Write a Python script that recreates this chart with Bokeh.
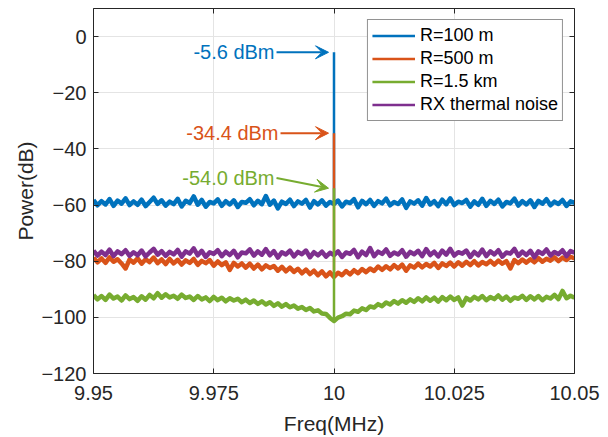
import numpy as np
from bokeh.plotting import figure
from bokeh.models import (ColumnDataSource, LinearAxis, FixedTicker, PrintfTickFormatter,
                          Legend, LegendItem, Arrow, VeeHead)
from bokeh.core.properties import value
from bokeh.embed import file_html
from bokeh.resources import INLINE

# Spectrum bins (MHz)
freq = np.linspace(9.95, 10.05, 121)
carrier_mhz = 10.0
carrier_bin = 60

# Noise floors around the carrier (dB)
p_100m = [
    -58.2, -60.1, -58.6, -59.8, -57.9, -60.3, -58.4, -59.5, -57.6, -60.0,
    -58.7, -59.9, -58.1, -60.4, -58.9, -57.4, -59.6, -58.3, -60.2, -58.8,
    -59.7, -57.8, -60.5, -58.5, -59.3, -56.9, -59.9, -58.2, -60.6, -58.9,
    -59.4, -58.0, -60.3, -58.6, -59.8, -58.3, -60.7, -58.9, -59.2, -57.9,
    -60.1, -58.5, -59.7, -56.8, -59.9, -58.4, -61.2, -58.8, -59.6, -58.1,
    -60.4, -58.7, -59.5, -58.2, -60.9, -58.6, -59.8, -58.3, -60.2, -58.9,
    -59.6, -58.4, -60.5, -58.8, -59.3, -57.9, -60.8, -58.5, -59.7, -58.2,
    -60.3, -58.6, -59.4, -57.7, -60.1, -58.9, -59.6, -58.0, -61.0, -58.7,
    -59.5, -58.3, -60.2, -57.5, -59.8, -58.6, -60.4, -58.1, -59.7, -57.6,
    -60.0, -58.8, -59.3, -58.2, -60.6, -58.7, -59.9, -57.8, -60.3, -58.5,
    -59.6, -58.1, -60.5, -58.9, -59.4, -57.7, -60.2, -58.6, -59.8, -58.3,
    -60.7, -58.5, -59.5, -57.9, -60.1, -58.8, -59.6, -58.2, -60.3, -58.7,
    -59.2,
]
p_500m = [
    -78.8, -80.4, -79.0, -80.6, -78.6, -80.2, -79.3, -80.8, -82.6, -79.4,
    -80.5, -79.0, -80.9, -79.3, -80.3, -78.7, -80.7, -79.4, -81.0, -79.2,
    -80.8, -79.5, -81.2, -79.7, -80.6, -79.2, -81.3, -79.9, -80.7, -79.6,
    -81.6, -80.1, -81.4, -80.4, -83.1, -80.6, -81.9, -80.8, -82.3, -80.9,
    -82.6, -81.2, -82.9, -81.5, -82.4, -81.7, -83.4, -82.0, -83.6, -82.3,
    -83.8, -82.7, -84.3, -83.0, -84.6, -83.4, -85.0, -83.6, -85.4, -84.0,
    -85.6, -84.1, -85.0, -83.5, -84.7, -83.2, -84.3, -82.8, -83.9, -82.6,
    -83.5, -81.9, -83.1, -81.8, -82.9, -81.4, -82.6, -81.2, -83.4, -81.5,
    -82.3, -80.9, -82.2, -81.0, -81.9, -80.6, -82.4, -80.8, -81.7, -80.5,
    -81.9, -80.4, -81.6, -80.2, -81.4, -80.0, -81.5, -80.3, -81.1, -79.9,
    -81.2, -79.8, -80.9, -80.0, -82.6, -79.6, -80.7, -79.4, -80.5, -79.3,
    -80.4, -78.9, -80.2, -79.1, -79.8, -78.6, -80.0, -78.7, -79.6, -78.4,
    -79.0,
]
p_1500m = [
    -92.1, -93.6, -92.4, -93.8, -91.9, -93.3, -92.6, -94.0, -92.2, -93.5,
    -92.8, -94.1, -92.5, -93.7, -92.0, -93.2, -91.4, -93.0, -91.8, -92.9,
    -92.3, -93.4, -91.9, -93.1, -92.6, -93.8, -92.4, -93.6, -92.9, -94.2,
    -92.7, -93.9, -93.0, -94.3, -93.2, -94.0, -93.4, -94.6, -93.7, -94.9,
    -94.0, -95.2, -94.3, -95.4, -94.6, -95.9, -95.0, -96.2, -95.3, -96.4,
    -95.8, -96.9, -96.3, -97.4, -96.7, -97.9, -97.5, -98.6, -98.8, -100.2,
    -101.3, -100.1, -99.6, -98.7, -98.9, -97.6, -98.0, -96.8, -97.4, -96.1,
    -96.5, -95.3, -96.0, -94.7, -95.4, -94.2, -95.1, -93.9, -94.8, -93.6,
    -94.5, -93.2, -94.3, -92.9, -94.1, -93.0, -94.4, -92.8, -93.9, -92.6,
    -93.8, -92.9, -95.8, -93.1, -94.0, -92.7, -93.6, -92.4, -93.9, -92.8,
    -93.5, -92.2, -93.7, -92.6, -94.1, -92.9, -93.4, -92.3, -93.8, -92.5,
    -93.6, -92.4, -93.9, -92.7, -93.3, -92.0, -93.5, -90.6, -93.2, -92.3,
    -93.0,
]
p_thermal = [
    -76.3, -78.0, -76.6, -77.8, -75.9, -78.2, -76.5, -77.5, -76.1, -78.1,
    -76.8, -77.9, -76.2, -78.3, -76.9, -75.6, -77.7, -76.4, -78.1, -76.7,
    -77.6, -76.0, -78.4, -76.5, -77.3, -75.4, -77.9, -76.3, -78.5, -76.8,
    -77.4, -76.1, -78.2, -76.6, -77.8, -76.3, -78.6, -76.9, -77.2, -75.8,
    -78.0, -76.5, -77.7, -75.7, -77.9, -76.4, -78.7, -76.8, -77.6, -76.2,
    -78.3, -76.7, -77.5, -76.2, -78.6, -76.8, -77.9, -76.6, -78.4, -77.0,
    -77.8, -76.5, -78.5, -76.9, -77.4, -76.0, -78.6, -76.6, -77.8, -75.3,
    -78.2, -76.6, -77.4, -75.8, -78.1, -76.9, -77.6, -76.1, -78.4, -76.7,
    -77.5, -76.3, -78.2, -75.7, -77.8, -76.6, -78.3, -76.2, -77.7, -75.6,
    -78.0, -76.8, -77.3, -76.2, -78.5, -76.7, -77.9, -75.9, -78.2, -76.5,
    -77.6, -76.1, -78.4, -76.9, -77.3, -75.6, -78.1, -76.6, -77.8, -76.3,
    -78.6, -76.5, -77.4, -75.8, -78.0, -76.7, -77.5, -76.1, -78.2, -76.4,
    -77.0,
]

# Received carrier power at 10 MHz (dBm)
peak_dbm = [-5.6, -34.4, -54.0]

labels = ["R=100 m", "R=500 m", "R=1.5 km", "RX thermal noise"]
colors = ["#0072BD", "#D95319", "#77AC30", "#7E2F8E"]
x_ticks = [9.95, 9.975, 10.0, 10.025, 10.05]
y_ticks = [-120, -100, -80, -60, -40, -20, 0]

FONT = "Liberation Sans"
AX = "#262626"

p = figure(width=608, height=437, x_range=(9.95, 10.05), y_range=(-120, 10),
           output_backend="svg", toolbar_location=None,
           min_border_left=93, min_border_right=34, min_border_top=8, min_border_bottom=63,
           x_axis_label="Freq(MHz)", y_axis_label="Power(dB)")
p.outline_line_color = None
p.background_fill_color = "white"
p.border_fill_color = "white"

for axis in (p.xaxis[0], p.yaxis[0]):
    axis.axis_line_color = AX
    axis.major_tick_line_color = AX
    axis.minor_tick_line_color = None
    axis.major_tick_in = 5
    axis.major_tick_out = 0
    axis.major_label_text_font = FONT
    axis.major_label_text_font_size = "20px"
    axis.major_label_text_color = AX
    axis.axis_label_text_font = FONT
    axis.axis_label_text_font_size = "21px"
    axis.axis_label_text_font_style = "normal"
    axis.axis_label_text_color = AX
p.xaxis[0].ticker = FixedTicker(ticks=x_ticks)
p.xaxis[0].formatter = PrintfTickFormatter(format="%g")
p.yaxis[0].ticker = FixedTicker(ticks=y_ticks)
p.xaxis[0].major_label_standoff = 12
p.xaxis[0].axis_label_standoff = 9
p.yaxis[0].major_label_standoff = 7
p.yaxis[0].axis_label_standoff = 1

# Box ticks on top and right (no labels)
top = LinearAxis(ticker=FixedTicker(ticks=x_ticks), major_label_text_font_size="1px",
                 major_label_text_color=None, major_label_standoff=0,
                 major_tick_in=5, major_tick_out=0, minor_tick_line_color=None,
                 axis_line_color=AX, major_tick_line_color=AX)
right = LinearAxis(ticker=FixedTicker(ticks=y_ticks), major_label_text_font_size="1px",
                   major_label_text_color=None, major_label_standoff=0,
                   major_tick_in=5, major_tick_out=0, minor_tick_line_color=None,
                   axis_line_color=AX, major_tick_line_color=AX)
p.add_layout(top, "above")
p.add_layout(right, "right")

p.xgrid.ticker = FixedTicker(ticks=x_ticks)
p.ygrid.ticker = FixedTicker(ticks=y_ticks)
p.grid.grid_line_color = "#e4e4e4"
p.grid.grid_line_width = 1

series = [p_100m, p_500m, p_1500m, p_thermal]
# draw order: blue, orange, purple, green
for k in (0, 1, 3, 2):
    src = ColumnDataSource(dict(f=freq, pw=series[k]))
    p.line("f", "pw", source=src, line_color=colors[k], line_width=4.5, line_join="round")
    if k < 3:
        p.segment(x0=[carrier_mhz], y0=[peak_dbm[k]], x1=[carrier_mhz],
                  y1=[series[k][carrier_bin]], line_color=colors[k], line_width=2.5)

# Legend swatches: single-sample lines (nothing drawn in the frame), thinner than traces
swatches = [p.line(x=[freq[0]], y=[series[k][0]], line_color=colors[k], line_width=2.5)
            for k in range(4)]

# Peak annotations
tail_x = [9.98805, 9.98888, 9.98805]
tip_x = 9.99886
tail_dy = [0.0, 0.0, 3.6]
for k in range(3):
    ys = peak_dbm[k] + tail_dy[k]
    p.add_layout(Arrow(end=VeeHead(size=13, fill_color=colors[k], line_color=colors[k], line_width=1),
                       x_start=tail_x[k], y_start=ys, x_end=tip_x, y_end=peak_dbm[k],
                       line_color=colors[k], line_width=2))
    p.text(x=[tail_x[k]], y=[ys], text=[f"{peak_dbm[k]:.1f} dBm"], x_offset=-2,
           text_align="right", text_baseline="middle", text_color=colors[k],
           text_font=value(FONT), text_font_size="20px")

legend = Legend(items=[LegendItem(label=labels[k], renderers=[swatches[k]]) for k in range(4)],
                location="top_right", margin=11, padding=4, spacing=0,
                glyph_width=43, glyph_height=23, label_height=23, label_standoff=5,
                label_text_font=FONT, label_text_font_size="18px", label_text_color="#000000",
                border_line_color=AX, border_line_width=1, background_fill_alpha=1)
p.add_layout(legend)

open("out.html", "w").write(file_html(p, INLINE))
